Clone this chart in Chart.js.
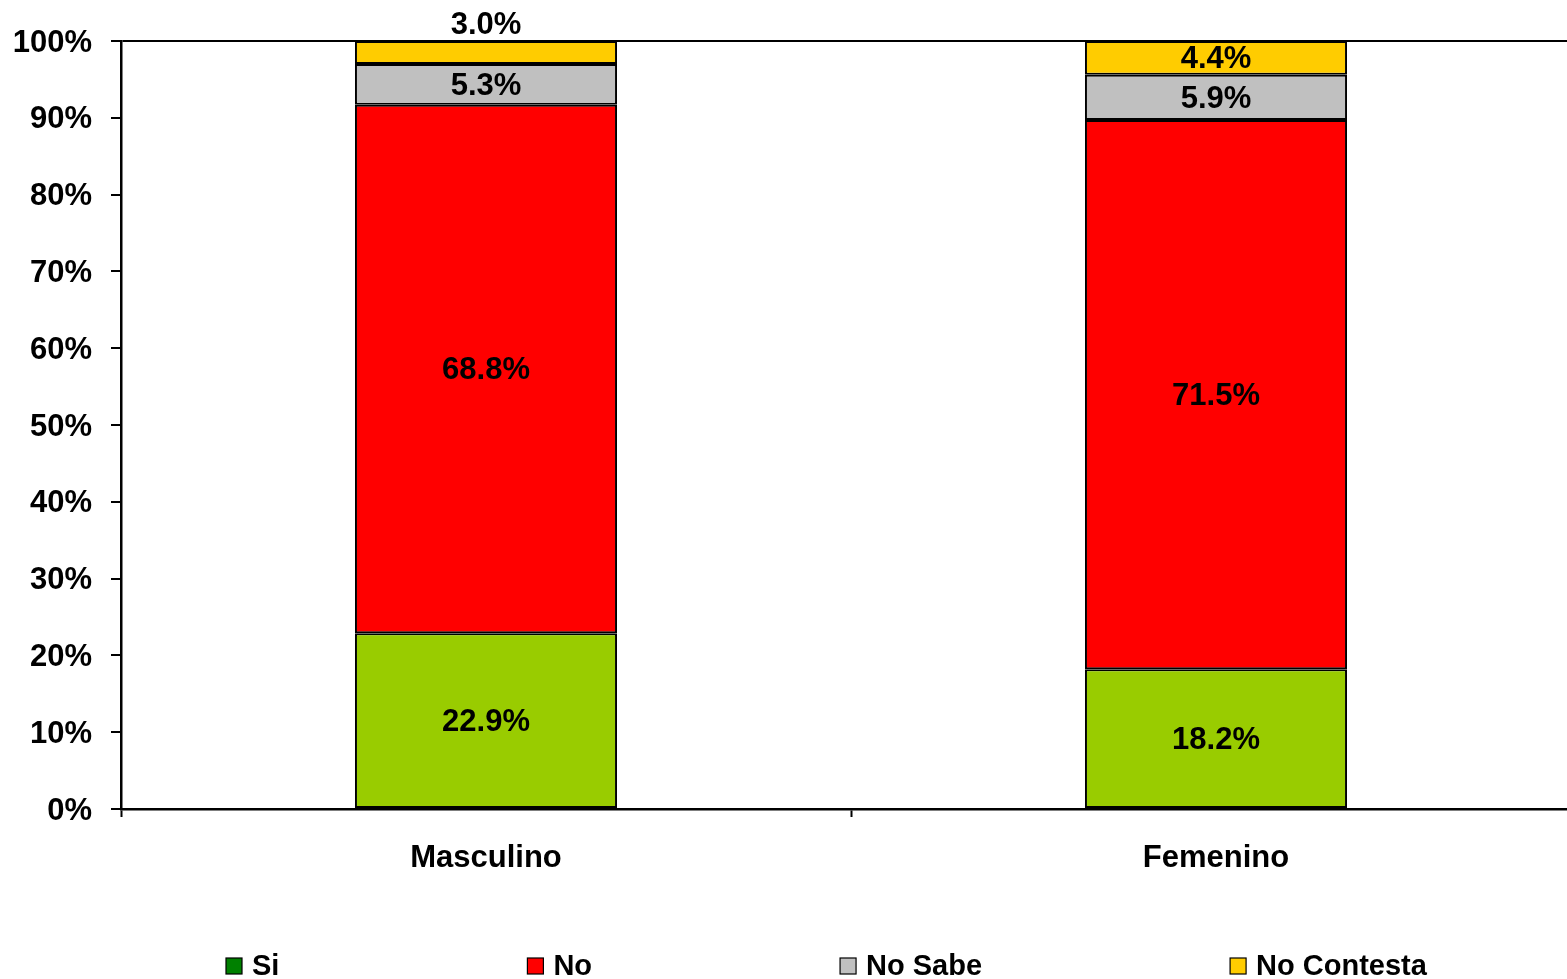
<!DOCTYPE html>
<html>
<head>
<meta charset="utf-8">
<script src="https://cdn.jsdelivr.net/npm/chart.js@4.4.0/dist/chart.umd.min.js"></script>
<style>
  html, body { margin: 0; padding: 0; background: #fff; }
  #wrap { width: 1567px; height: 979px; overflow: hidden; position: relative; }
  canvas { display: block; }
</style>
</head>
<body>
<div id="wrap"><canvas id="chart" width="1581" height="979"></canvas></div>
<script>
// categories and series (percent)
var categories = ['Masculino', 'Femenino'];
var seriesNames = ['Si', 'No', 'No Sabe', 'No Contesta'];
var si = [22.9, 18.2];
var no = [68.8, 71.5];
var noSabe = [5.3, 5.9];
var noContesta = [3.0, 4.4];
var yTicks = [0, 10, 20, 30, 40, 50, 60, 70, 80, 90, 100];

var barColors = ['#99CC00', '#FF0000', '#C0C0C0', '#FFCC00'];
var legendColors = ['#008000', '#FF0000', '#C0C0C0', '#FFCC00'];
var FONT = 'Arial, "Liberation Sans", sans-serif';

Chart.defaults.font.family = FONT;
Chart.defaults.color = '#000';

// value labels inside each segment (or above the stack when the segment is thin)
var valueLabels = {
  id: 'valueLabels',
  afterDatasetsDraw: function (chart) {
    var ctx = chart.ctx;
    ctx.save();
    ctx.font = 'bold 31px ' + FONT;
    ctx.fillStyle = '#000';
    ctx.textAlign = 'center';
    ctx.textBaseline = 'middle';
    chart.data.datasets.forEach(function (ds, i) {
      chart.getDatasetMeta(i).data.forEach(function (bar, j) {
        var top = Math.min(bar.y, bar.base);
        var h = Math.abs(bar.base - bar.y);
        var y = (bar.y + bar.base) / 2 + 2;
        if (h < 28) y = top - 16;
        ctx.fillText(ds.data[j].toFixed(1) + '%', bar.x, y);
      });
    });
    ctx.restore();
  }
};

// legend drawn at the bottom, spaced like the original
var bottomLegend = {
  id: 'bottomLegend',
  afterDraw: function (chart) {
    var ctx = chart.ctx;
    ctx.save();
    ctx.font = 'bold 29px ' + FONT;
    ctx.textBaseline = 'middle';
    ctx.textAlign = 'left';
    var x = 226, y = 966;
    seriesNames.forEach(function (name, i) {
      ctx.fillStyle = legendColors[i];
      ctx.fillRect(x, y - 8, 16, 16);
      ctx.strokeStyle = '#000';
      ctx.lineWidth = 1.2;
      ctx.strokeRect(x, y - 8, 16, 16);
      ctx.fillStyle = '#000';
      ctx.fillText(name, x + 26, y + 1);
      x += 26 + ctx.measureText(name).width + 248;
    });
    ctx.restore();
  }
};

var seriesValues = [si, no, noSabe, noContesta];
var datasets = seriesNames.map(function (name, i) {
  return {
    label: name,
    data: seriesValues[i],
    backgroundColor: barColors[i],
    borderColor: '#000',
    borderWidth: 2,
    borderSkipped: false,
    barPercentage: 0.359,
    categoryPercentage: 1
  };
});

var ctx = document.getElementById('chart').getContext('2d');
new Chart(ctx, {
  type: 'bar',
  data: { labels: categories, datasets: datasets },
  plugins: [valueLabels, bottomLegend],
  options: {
    responsive: false,
    animation: false,
    devicePixelRatio: 1,
    layout: { padding: { top: 41, left: 0, right: 0, bottom: 70 } },
    plugins: {
      legend: { display: false },
      tooltip: { enabled: false }
    },
    scales: {
      x: {
        stacked: true,
        grid: { offset: true, drawOnChartArea: false, tickLength: 8, tickColor: '#000', tickWidth: 2 },
        border: { color: '#000', width: 2.5 },
        ticks: { font: { size: 31, weight: 'bold' }, color: '#000', padding: 23 },
        afterFit: function (s) { s.height = 100; }
      },
      y: {
        stacked: true,
        min: 0,
        max: 100,
        afterBuildTicks: function (s) { s.ticks = yTicks.map(function (v) { return { value: v }; }); },
        grid: {
          color: function (c) { return c.tick && c.tick.value === 100 ? '#000' : 'rgba(0,0,0,0)'; },
          lineWidth: 2,
          tickLength: 10,
          tickColor: '#000',
          tickWidth: 2
        },
        border: { color: '#000', width: 2.5 },
        ticks: {
          font: { size: 31, weight: 'bold' },
          color: '#000',
          padding: 19,
          labelOffset: 2,
          callback: function (v) { return v + '%'; }
        },
        afterFit: function (s) { s.width = 121; }
      }
    }
  }
});
</script>
</body>
</html>
